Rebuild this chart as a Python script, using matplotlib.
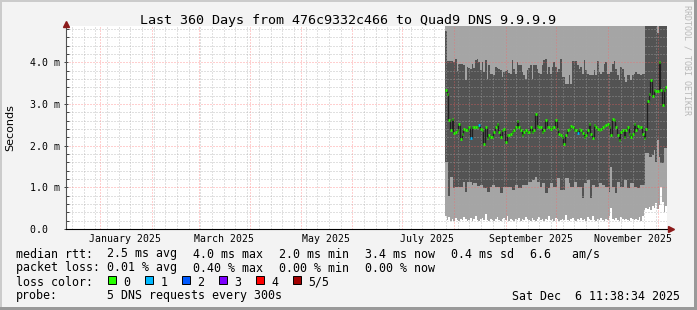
import matplotlib
matplotlib.use('Agg')
import matplotlib.pyplot as plt
import matplotlib.dates as mdates
import matplotlib.transforms as mtransforms
from matplotlib.patches import Rectangle
import numpy as np
import pandas as pd

W, H = 697, 310
MONO = 'DejaVu Sans Mono'

# 360 day window ending at the graph time
t_end = pd.Timestamp('2025-12-06 11:38:34')
t_start = t_end - pd.Timedelta(days=360)
data_start = pd.Timestamp('2025-07-26 11:38:34')

# daily median rtt (ms)
median = [3.33, 3.25, 2.61, 2.37, 2.63, 2.31, 2.33, 2.37, 2.52, 2.15,
          2.29, 2.39, 2.37, 2.37, 2.45, 2.18, 2.44, 2.44, 2.44, 2.44,
          2.49, 2.41, 2.37, 2.04, 2.45, 2.18, 2.25, 2.21, 2.21, 2.33,
          2.45, 2.52, 2.33, 2.21, 2.37, 2.41, 2.09, 2.25, 2.25, 2.29,
          2.33, 2.37, 2.45, 2.60, 2.45, 2.37, 2.25, 2.33, 2.37, 2.33,
          2.33, 2.45, 2.33, 2.37, 2.75, 2.47, 2.45, 2.44, 2.33, 2.37,
          2.61, 2.45, 2.45, 2.41, 2.45, 2.44, 2.61, 2.41, 2.29, 2.25,
          2.21, 2.04, 2.25, 2.37, 2.41, 2.47, 2.44, 2.37, 2.37, 2.31,
          2.41, 2.37, 2.31, 2.21, 2.25, 2.37, 2.52, 2.29, 2.18, 2.49,
          2.45, 2.39, 2.37, 2.41, 2.44, 2.47, 2.49, 2.53, 2.44, 2.25,
          2.65, 2.61, 2.45, 2.25, 2.13, 2.33, 2.37, 2.21, 2.37, 2.44,
          2.29, 2.21, 2.29, 2.52, 2.37, 2.47, 2.45, 2.44, 2.29, 2.18,
          2.41, 3.08, 3.24, 3.57, 3.19, 3.33, 3.32, 3.31, 4.01, 3.33,
          2.97, 3.33, 3.41]

# lost pings per day (out of 5)
loss = [0, 0, 0, 0, 0, 0, 0, 0, 0, 0, 0, 0, 0, 0, 0, 1, 0, 0, 0, 0,
        1, 0, 0, 0, 0, 0, 0, 0, 0, 0, 0, 0, 0, 0, 0, 0, 0, 0, 0, 0,
        0, 0, 0, 0, 0, 0, 0, 0, 0, 0, 0, 0, 0, 0, 0, 0, 0, 0, 0, 0,
        0, 0, 0, 0, 0, 0, 0, 0, 0, 0, 0, 0, 0, 0, 0, 0, 0, 0, 0, 1,
        0, 0, 0, 0, 0, 0, 0, 0, 0, 0, 0, 0, 0, 0, 0, 0, 0, 0, 0, 0,
        0, 0, 0, 0, 0, 0, 0, 0, 0, 0, 0, 0, 0, 0, 0, 0, 0, 0, 0, 0,
        0, 0, 0, 0, 0, 0, 0, 0, 0, 0, 0, 0, 0]

# smoke: sorted pings (ms); ping5 is above the top of the graph
ping1 = [0.30, 0.22, 0.28, 0.18, 0.24, 0.20, 0.26, 0.22, 0.19, 0.25,
         0.21, 0.28, 0.23, 0.18, 0.22, 0.27, 0.20, 0.24, 0.30, 0.22,
         0.19, 0.23, 0.26, 0.21, 0.35, 0.22, 0.18, 0.25, 0.22, 0.20,
         0.24, 0.28, 0.21, 0.19, 0.23, 0.26, 0.22, 0.32, 0.20, 0.24,
         0.21, 0.18, 0.25, 0.22, 0.27, 0.20, 0.23, 0.21, 0.29, 0.24,
         0.22, 0.19, 0.26, 0.22, 0.20, 0.24, 0.28, 0.21, 0.23, 0.19,
         0.25, 0.22, 0.30, 0.21, 0.24, 0.20, 0.26, 0.23, 0.19, 0.22,
         0.25, 0.21, 0.34, 0.22, 0.20, 0.24, 0.27, 0.22, 0.19, 0.23,
         0.21, 0.26, 0.22, 0.24, 0.20, 0.28, 0.23, 0.21, 0.32, 0.22,
         0.19, 0.24, 0.22, 0.27, 0.21, 0.20, 0.25, 0.22, 0.30, 0.50,
         0.24, 0.21, 0.26, 0.22, 0.19, 0.28, 0.23, 0.21, 0.25, 0.22,
         0.20, 0.26, 0.23, 0.21, 0.24, 0.22, 0.28, 0.20, 0.32, 0.45,
         0.50, 0.48, 0.52, 0.45, 0.55, 0.50, 0.62, 0.48, 0.58, 1.00,
         0.65, 0.40, 0.55]
ping2 = [1.61, 1.61, 0.78, 1.25, 1.25, 0.98, 1.01, 1.01, 1.01, 1.01,
         1.01, 1.13, 0.89, 1.13, 1.13, 1.13, 1.06, 1.10, 1.10, 1.03,
         1.03, 1.06, 1.06, 0.98, 0.98, 0.89, 0.89, 1.01, 1.06, 1.06,
         1.01, 1.01, 1.01, 0.86, 0.86, 1.01, 1.01, 1.01, 1.01, 1.01,
         0.94, 0.94, 1.06, 1.06, 0.98, 0.98, 1.06, 1.06, 1.06, 1.06,
         1.13, 1.13, 1.18, 1.18, 1.25, 1.13, 1.13, 1.01, 1.10, 1.10,
         0.86, 0.86, 0.98, 1.10, 1.10, 1.01, 1.01, 1.22, 1.22, 0.94,
         0.94, 0.94, 1.22, 1.22, 1.10, 1.01, 1.01, 1.13, 1.13, 1.01,
         1.01, 1.01, 0.74, 1.10, 1.10, 1.18, 1.18, 0.74, 1.06, 1.06,
         1.01, 1.01, 1.10, 1.10, 1.06, 1.06, 1.01, 1.01, 0.89, 1.49,
         1.01, 1.01, 0.86, 1.13, 1.13, 1.01, 1.01, 1.18, 1.18, 0.98,
         0.98, 1.10, 1.10, 1.01, 1.01, 0.98, 0.98, 1.06, 1.06, 1.06,
         1.82, 1.82, 1.73, 1.73, 1.77, 1.89, 1.61, 2.13, 1.73, 1.58,
         1.58, 1.94, 1.94]
ping4 = [4.75, 4.03, 4.03, 4.03, 4.03, 4.00, 4.07, 3.80, 3.95, 3.95,
         3.95, 3.93, 3.57, 3.89, 3.87, 3.85, 3.95, 3.87, 4.05, 4.09,
         4.00, 3.81, 4.01, 3.77, 4.05, 3.61, 3.93, 3.73, 3.73, 3.69,
         3.89, 3.87, 3.85, 3.81, 3.65, 3.77, 3.79, 3.81, 3.75, 3.73,
         4.05, 3.83, 3.73, 4.01, 3.93, 3.93, 3.77, 3.69, 3.61, 3.81,
         3.87, 3.93, 3.61, 3.93, 3.93, 3.85, 3.75, 3.73, 3.93, 4.05,
         4.09, 3.73, 3.89, 3.73, 3.89, 4.01, 3.89, 3.77, 3.85, 4.09,
         3.65, 3.65, 3.47, 3.47, 3.69, 3.47, 4.03, 4.03, 4.03, 3.93,
         3.85, 3.89, 3.73, 4.05, 3.81, 3.73, 3.69, 3.69, 3.69, 3.81,
         3.69, 4.03, 3.77, 3.73, 3.77, 3.95, 4.01, 3.73, 3.73, 3.77,
         3.95, 4.03, 3.85, 3.69, 3.57, 3.89, 3.85, 3.65, 3.53, 3.69,
         3.69, 3.57, 3.69, 3.73, 3.77, 3.73, 3.71, 3.69, 3.73, 3.71,
         5.00, 5.00, 5.00, 5.00, 5.00, 5.00, 5.00, 4.70, 5.00, 5.00,
         5.00, 5.00, 5.00]

y_ticks = [0, 1, 2, 3, 4]
y_labels = ['0.0  ', '1.0 m', '2.0 m', '3.0 m', '4.0 m']
y_top = 4.87
x_labels = ['January 2025', 'March 2025', 'May 2025', 'July 2025',
            'September 2025', 'November 2025']
x_label_dates = ['2025-01-16', '2025-03-16', '2025-05-16', '2025-07-16',
                 '2025-09-16', '2025-11-16']

loss_names = ['0', '1', '2', '3', '4', '5/5']
loss_colors = ['#26ff00', '#00b8ff', '#0059ff', '#7e00ff', '#ff0000', '#a10000']

legend_rows = [
    ['median rtt:', '2.5 ms avg', '4.0 ms max', '2.0 ms min', '3.4 ms now',
     '0.4 ms sd', '6.6   am/s'],
    ['packet loss:', '0.01 % avg', '0.40 % max', '0.00 % min', '0.00 % now'],
]
probe_text = '5 DNS requests every 300s'
date_text = 'Sat Dec  6 11:38:34 2025'
title = 'Last 360 Days from 476c9332c466 to Quad9 DNS 9.9.9.9'


def fx(x):
    return x / W


def fy(y):
    return 1 - y / H


fig = plt.figure(figsize=(W / 100, H / 100), dpi=100, facecolor='#f3f3f3')
ax = fig.add_axes([fx(66), fy(229), fx(667) - fx(66), fy(26) - fy(229)])
ax.set_facecolor('white')

edges = mdates.date2num(pd.date_range(data_start, periods=len(median) + 1,
                                      freq='D').to_pydatetime())

light = '#a5a5a5'
dark = '#535353'
ax.stairs(ping2, edges, baseline=ping1, fill=True, color=light, lw=0, zorder=1)
ax.stairs(ping4, edges, baseline=ping2, fill=True, color=dark, lw=0, zorder=1)
ax.stairs(np.full(len(ping4), y_top), edges, baseline=ping4, fill=True,
          color=light, lw=0, zorder=1)

# median line + loss coloured marks
ax.stairs(median, edges, baseline=None, color='#202020', lw=0.9, zorder=4)
ax.hlines(median, edges[:-1], edges[1:], colors=[loss_colors[l] for l in loss],
          lw=1.9, zorder=5, capstyle='butt')

ax.set_xlim(mdates.date2num(t_start.to_pydatetime()),
            mdates.date2num(t_end.to_pydatetime()))
ax.set_ylim(0, y_top)

ax.xaxis.set_major_locator(mdates.MonthLocator())
ax.xaxis.set_minor_locator(mdates.WeekdayLocator(byweekday=mdates.SU))
ax.xaxis.set_major_formatter(plt.NullFormatter())
ax.yaxis.set_major_locator(plt.FixedLocator(y_ticks))
ax.yaxis.set_minor_locator(plt.MultipleLocator(0.2))
ax.set_yticklabels(y_labels, family=MONO, fontsize=7.1)

ax.set_axisbelow(False)
ax.grid(which='minor', color='#a8a8a8', alpha=0.7, lw=0.72, ls=(0, (1, 2)))
ax.grid(which='major', color='#ff6060', alpha=0.6, lw=0.72, ls=(0, (1, 2)))

ax.tick_params(axis='x', which='both', length=0)
ax.tick_params(axis='y', which='major', length=3, direction='inout',
               color='#404040', width=0.7, pad=3)
ax.tick_params(axis='y', which='minor', length=2, direction='in',
               color='#404040', width=0.7)

for s in ['top', 'right']:
    ax.spines[s].set_visible(False)
ax.spines['left'].set_color('#505050')
ax.spines['bottom'].set_color('black')
ax.spines['left'].set_linewidth(0.8)
ax.spines['bottom'].set_linewidth(0.8)
ax.spines['left'].set_zorder(6)
ax.spines['bottom'].set_zorder(6)

# arrows on the axes
up = mtransforms.offset_copy(ax.transAxes, fig=fig, x=0, y=2, units='dots')
ax.plot([0], [1], marker='^', color='#8b1a1a', ms=4.5, transform=up,
        clip_on=False, zorder=7)
right = mtransforms.offset_copy(ax.transAxes, fig=fig, x=4, y=0, units='dots')
ax.plot([1], [0], marker='>', color='#8b1a1a', ms=4.5, transform=right,
        clip_on=False, zorder=7)

# month labels at mid-month
lab_trans = mtransforms.blended_transform_factory(ax.transData, fig.transFigure)
for lab, d in zip(x_labels, x_label_dates):
    ax.text(mdates.date2num(pd.Timestamp(d).to_pydatetime()), fy(241.5), lab,
            transform=lab_trans, ha='center', va='baseline', family=MONO,
            fontsize=7.1)

fig.text(fx(348.5), fy(24), title, ha='center', va='baseline', family=MONO,
         fontsize=9.6)
fig.text(fx(10), fy(128), 'Seconds', rotation=90, ha='center', va='center',
         family='DejaVu Sans', fontsize=8)
fig.text(fx(687), fy(5), 'RRDTOOL / TOBI OETIKER', rotation=270, ha='center',
         va='top', family=MONO, fontsize=6, color='#b8b8b8')

# legend
col_x = [16, 107.3, 192.7, 279.3, 365.3, 451, 530]
row_y = [257.5, 271.5, 285.5, 299.5]
for r, items in enumerate(legend_rows):
    for i, t in enumerate(items):
        fig.text(fx(col_x[i]), fy(row_y[r]), t, ha='left', va='baseline',
                 family=MONO, fontsize=8.4)

fig.text(fx(16), fy(row_y[2]), 'loss color:', ha='left', va='baseline',
         family=MONO, fontsize=8.4)
for i, (name, c) in enumerate(zip(loss_names, loss_colors)):
    bx = 108.3 + i * 37
    fig.patches.append(Rectangle((fx(bx), fy(284)), 7.7 / W, 8 / H,
                                 transform=fig.transFigure, facecolor=c,
                                 edgecolor='black', lw=0.7))
    fig.text(fx(bx + 15), fy(row_y[2]), name, ha='left', va='baseline',
             family=MONO, fontsize=8.4)

fig.text(fx(16), fy(row_y[3]), 'probe:', ha='left', va='baseline',
         family=MONO, fontsize=8.4)
fig.text(fx(107.3), fy(row_y[3]), probe_text, ha='left', va='baseline',
         family=MONO, fontsize=8.4)
fig.text(fx(680), fy(row_y[3]), date_text, ha='right', va='baseline',
         family=MONO, fontsize=8.4)

# 3d frame around the image
fig.patches.append(Rectangle((0, 1 - 2 / H), 1, 2 / H, transform=fig.transFigure,
                             color='#cbcbcb', lw=0))
fig.patches.append(Rectangle((0, 0), 2 / W, 1, transform=fig.transFigure,
                             color='#cbcbcb', lw=0))
fig.patches.append(Rectangle((0, 0), 1, 3 / H, transform=fig.transFigure,
                             color='#999999', lw=0))
fig.patches.append(Rectangle((1 - 3 / W, 0), 3 / W, 1, transform=fig.transFigure,
                             color='#999999', lw=0))

fig.savefig('out.png', dpi=100, facecolor=fig.get_facecolor())
